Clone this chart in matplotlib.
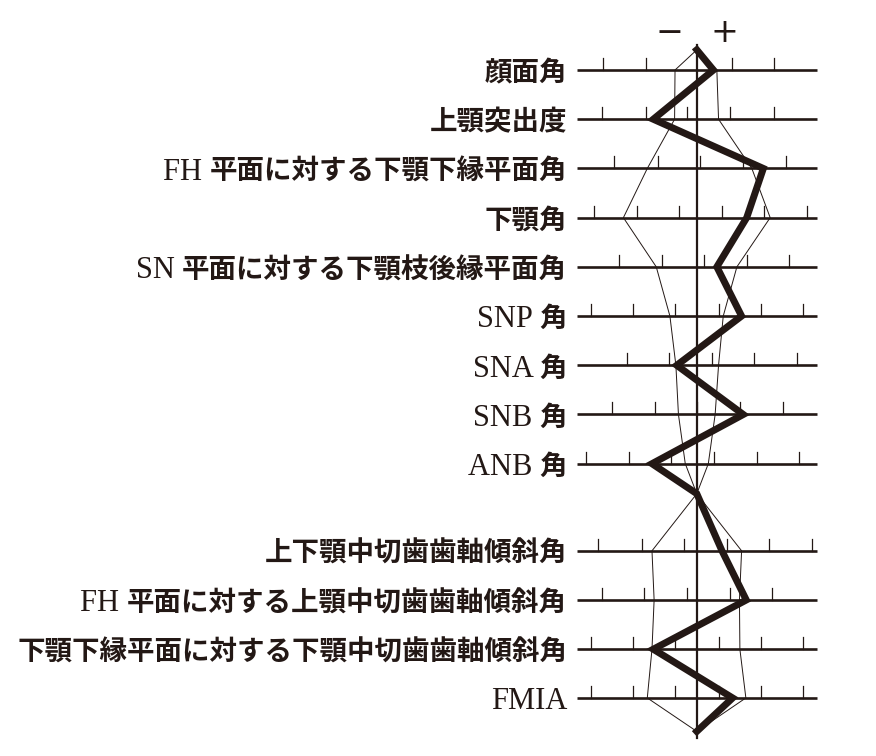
import matplotlib
matplotlib.use("Agg")
import matplotlib.pyplot as plt

# 項目名 (上から)。欧文部分と和文部分に分ける
labels_latin = ["", "", "FH", "", "SN", "SNP", "SNA", "SNB", "ANB",
                "", "FH", "", "FMIA"]
labels_jp = ["顔面角", "上顎突出度", "平面に対する下顎下縁平面角", "下顎角",
             "平面に対する下顎枝後縁平面角", "角", "角", "角", "角",
             "上下顎中切歯歯軸傾斜角", "平面に対する上顎中切歯歯軸傾斜角",
             "下顎下縁平面に対する下顎中切歯歯軸傾斜角", ""]

# 行の縦位置 (下の群は間をあける)
rows = [0, 1, 2, 3, 4, 5, 6, 7, 8, 9.77, 10.77, 11.77, 12.76]
top_y, mid_y, bottom_y = -0.41, 8.61, 13.44

# 患者の値 (太線)
patient = [0.39, -1.02, 1.56, 1.17, 0.47, 1.05, -0.47, 1.09, -1.05,
           0.59, 1.16, -1.02, 0.84]

# 標準偏差の範囲 (細線)
norm_low = [-0.51, -0.52, -1.16, -1.72, -0.95, -0.63, -0.49, -0.43, -0.27,
            -1.05, -1.00, -1.05, -1.16]
norm_high = [0.47, 0.51, 1.29, 1.72, 0.94, 0.62, 0.51, 0.43, 0.27,
             1.05, 1.00, 1.01, 1.15]

# 各行の目盛り
ticks = [
    [-2.19, -1.19, 0.82, 1.82],
    [-2.21, -1.20, -0.22, 0.78, 1.80],
    [-1.93, -0.92, 0.08, 1.08, 2.08],
    [-2.42, -1.41, -0.41, 0.59, 1.58, 2.58],
    [-1.82, -0.82, 0.16, 1.17, 2.17],
    [-2.48, -1.50, -0.50, 0.51, 1.50, 2.50],
    [-1.64, -0.64, 0.35, 1.35, 2.36],
    [-1.99, -0.99, 0.0, 1.01, 2.01],
    [-2.60, -1.60, -0.60, 0.40, 1.40, 2.40],
    [-2.31, -1.29, -0.30, 0.70, 1.70, 2.71],
    [-2.23, -1.24, -0.22, 0.78, 1.77],
    [-2.48, -1.50, -0.50, 0.51, 1.50, 2.50],
    [-2.48, -1.50, -0.50, 0.51, 1.50, 2.50],
]

ink = "#231815"

fig = plt.figure(figsize=(8.76, 7.56), dpi=100)
ax = fig.add_axes([0, 0, 1, 1])
ax.set_xlim(-16.33, 4.2)
ax.set_ylim(13.94, -1.423)
ax.axis("off")

half = 2.81
tick_len = 0.245
for y, tk in zip(rows, ticks):
    ax.plot([-half, half], [y, y], color=ink, lw=1.9, solid_capstyle="butt", zorder=2)
    for t in tk:
        ax.plot([t, t], [y, y - tick_len], color=ink, lw=0.9, zorder=2)

ax.plot([0, 0], [-0.51, 13.57], color=ink, lw=1.6, zorder=2)

# 細線 (上の群と下の群)
up = slice(0, 9)
lo = slice(9, 13)
for vals in (norm_low, norm_high):
    xs = [0] + vals[up] + [0] + vals[lo] + [0]
    ys = [top_y] + rows[up] + [mid_y] + rows[lo] + [bottom_y]
    ax.plot(xs, ys, color=ink, lw=0.7, zorder=3)

xs = [0] + patient[up] + [0] + patient[lo] + [0]
ys = [top_y] + rows[up] + [mid_y] + rows[lo] + [bottom_y]
ax.plot(xs, ys, color=ink, lw=5.0, solid_joinstyle="miter", zorder=4)

# ラベル: 和文は太字、欧文はセリフ体
renderer = fig.canvas.get_renderer()
label_x = -3.04
base_off = 0.23
for y, lat, jp in zip(rows, labels_latin, labels_jp):
    right = label_x
    if jp:
        t = ax.text(label_x, y + base_off, jp, ha="right", va="baseline",
                    fontsize=19.8, fontweight="bold", family="Noto Sans CJK JP",
                    color=ink)
        bb = t.get_window_extent(renderer)
        right = ax.transData.inverted().transform((bb.x0, 0))[0]
        lat = lat + " " if lat else lat
    if lat:
        ax.text(right, y + base_off, lat, ha="right", va="baseline",
                fontsize=22, family="Liberation Serif", color=ink)

ax.text(-0.65, -0.77, "−", ha="center", va="center", fontsize=24,
        family="DejaVu Sans", color=ink)
ax.text(0.64, -0.77, "+", ha="center", va="center", fontsize=24,
        family="DejaVu Sans", color=ink)

fig.savefig("out.png", dpi=100, facecolor="white")
